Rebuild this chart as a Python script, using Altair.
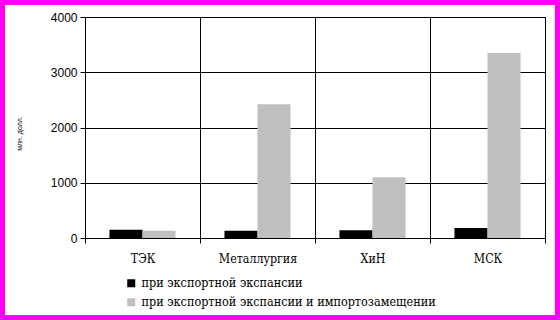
import altair as alt
import pandas as pd

categories = ["ТЭК", "Металлургия", "ХиН", "МСК"]
series_names = ["при экспортной экспансии", "при экспортной экспансии и импортозамещении"]
export_only = [150, 130, 140, 180]
export_import = [130, 2420, 1100, 3350]
colors = ["#000000", "#c0c0c0"]
y_ticks = [0, 1000, 2000, 3000, 4000]

SANS = "Liberation Sans"
SERIF = "DejaVu Serif Condensed"

rows = []
for i, c in enumerate(categories):
    rows.append({"cat": c, "series": series_names[0], "value": export_only[i]})
    rows.append({"cat": c, "series": series_names[1], "value": export_import[i]})
df = pd.DataFrame(rows)

bars = alt.Chart(df).mark_bar().encode(
    x=alt.X(
        "cat:N",
        sort=categories,
        scale=alt.Scale(paddingInner=0, paddingOuter=0),
        axis=alt.Axis(
            title=None, labelAngle=0, tickBand="extent", grid=True,
            gridColor="black", gridOpacity=1, domainColor="black", tickColor="black",
            tickSize=5, labelFont=SERIF, labelFontSize=12.3,
            labelColor="black", labelPadding=9,
        ),
    ),
    xOffset=alt.XOffset(
        "series:N", sort=series_names,
        scale=alt.Scale(paddingInner=0, paddingOuter=0.74),
    ),
    y=alt.Y(
        "value:Q",
        scale=alt.Scale(domain=[0, 4000], nice=False),
        axis=alt.Axis(
            values=y_ticks, format="d", grid=True, gridColor="black", gridOpacity=1,
            domainColor="black", tickColor="black", tickSize=5,
            labelFont=SANS, labelFontSize=12, labelColor="black",
            labelPadding=3,
            title="млн. долл.", titleFont=SANS, titleFontSize=7,
            titleFontWeight="normal", titleColor="black",
            titleAngle=270, titleX=-63, titleY=116,
        ),
    ),
    color=alt.Color(
        "series:N", sort=series_names,
        scale=alt.Scale(domain=series_names, range=colors),
        legend=alt.Legend(
            title=None, orient="none", legendX=40, legendY=260,
            direction="vertical", symbolType="square", symbolSize=64,
            symbolStrokeWidth=0, symbolOpacity=1, labelLimit=0,
            labelFont=SERIF, labelFontSize=12.5, labelColor="black",
            labelOffset=4, rowPadding=6, padding=0,
        ),
    ),
)

border = alt.Chart(pd.DataFrame({"a": [0]})).mark_rect(
    stroke="#ff00ff", strokeWidth=10, fillOpacity=0, clip=False
).encode(
    x=alt.value(-85), x2=alt.value(475), y=alt.value(-17), y2=alt.value(303)
)

chart = alt.layer(bars, border).properties(
    width=460, height=221,
    padding={"left": 85, "top": 17, "right": 15, "bottom": 82},
    autosize="none",
    background="white",
).configure_view(stroke="black", strokeWidth=1)

chart.save("out.html", embed_options={"renderer": "svg", "actions": False})
